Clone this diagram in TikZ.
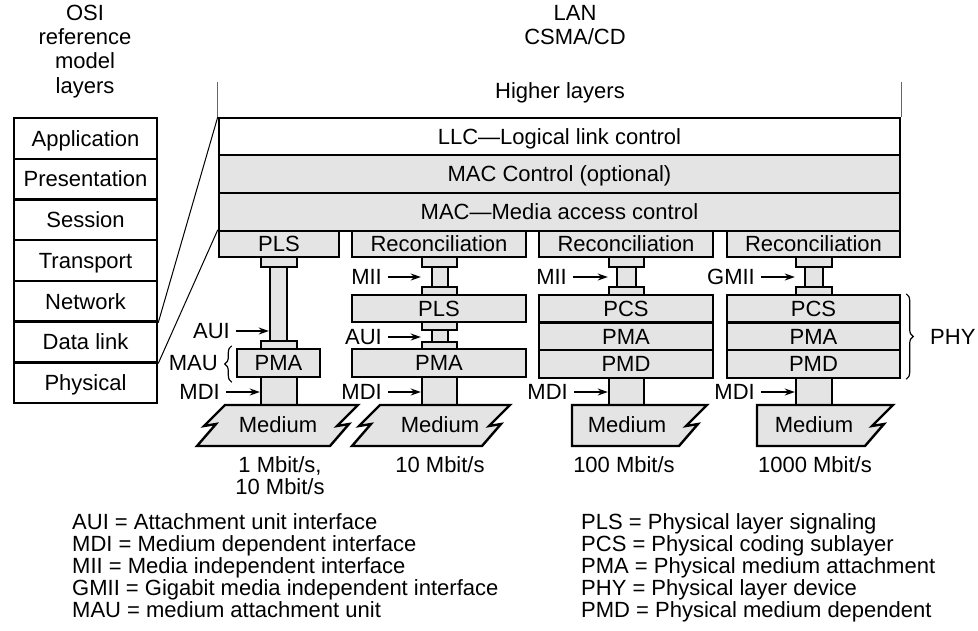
\documentclass[tikz,border=0pt]{standalone}
\usepackage{fontspec}
\setmainfont{Liberation Sans}
\usetikzlibrary{arrows.meta,decorations.pathreplacing}
\definecolor{layergray}{RGB}{228,228,228}
% \blk{style}{name}{x1}{y1}{x2}{y2}{text}: a box given by its corners
\newcommand\blk[7]{\node[#1,minimum width={(#5)-(#3)},minimum height={(#6)-(#4)}] (#2) at ({((#3)+(#5))/2},{((#4)+(#6))/2}) {#7};}
\begin{document}
\begin{tikzpicture}[x=1pt,y=-1pt,
  every node/.style={font=\fontsize{22}{26}\selectfont},
  part/.style={draw,line width=2.4pt,fill=layergray,inner sep=0pt},
  box/.style={part,text height=15.5pt,text depth=0pt},
  whitebox/.style={box,fill=white},
  lbl/.style={inner sep=0pt,text height=15.5pt,text depth=0pt},
  arr/.style={-{Stealth[length=10pt,width=7pt]},line width=1.3pt,shorten <=6pt},
  fineline/.style={line width=1pt},
  brc/.style={decorate,decoration={brace,amplitude=7pt},line width=1.2pt},
  medium/.style={draw,line width=2.4pt,fill=layergray,line join=miter}]
\useasboundingbox (0,0) rectangle (978,630);

% titles
\node[anchor=base] (osi1) at (85,20) {OSI};
\node[anchor=base] (osi2) at (85,44) {reference};
\node[anchor=base] (osi3) at (85,68) {model};
\node[anchor=base] (osi4) at (85,93) {layers};
\node[anchor=base] (lan1) at (575,20) {LAN};
\node[anchor=base] (lan2) at (575,44) {CSMA/CD};
\node[anchor=base] (higher) at (560,98) {Higher layers};

% OSI reference model column
\blk{whitebox}{app}{14}{118}{157}{158.7}{Application}
\blk{whitebox}{pre}{14}{158.7}{157}{199.4}{Presentation}
\blk{whitebox}{ses}{14}{199.4}{157}{240.1}{Session}
\blk{whitebox}{tra}{14}{240.1}{157}{280.9}{Transport}
\blk{whitebox}{net}{14}{280.9}{157}{321.6}{Network}
\blk{whitebox}{dl}{14}{321.6}{157}{362.3}{Data link}
\blk{whitebox}{phy}{14}{362.3}{157}{403}{Physical}

% shared upper sublayers
\blk{whitebox}{llc}{219}{118}{900}{155}{LLC—Logical link control}
\blk{box}{macc}{219}{155}{900}{193}{MAC Control (optional)}
\blk{box}{mac}{219}{193}{900}{231}{MAC—Media access control}

% first sublayer of each column
\blk{box}{pls1}{219}{231}{339}{257}{PLS}
\blk{box}{rec2}{352}{231}{526}{257}{Reconciliation}
\blk{box}{rec3}{539}{231}{713}{257}{Reconciliation}
\blk{box}{rec4}{727}{231}{900}{257}{Reconciliation}

% column 1: 1 and 10 Mbit/s
\blk{part}{s1}{270}{267}{287}{341}{}
\blk{part}{c1a}{261}{257}{297}{267}{}
\blk{part}{c1b}{261}{341}{297}{349}{}
\blk{box}{pma1}{237}{349}{320}{377}{PMA}
\blk{part}{w1}{261}{377}{297}{405}{}

% column 2: 10 Mbit/s
\blk{part}{s2a}{432}{267}{448}{287}{}
\blk{part}{c2a}{422}{257}{457}{267}{}
\blk{part}{c2b}{422}{287}{457}{295}{}
\blk{box}{pls2}{352}{295}{526}{322}{PLS}
\blk{part}{s2b}{432}{330}{448}{342}{}
\blk{part}{c2c}{422}{322}{457}{330}{}
\blk{part}{c2d}{422}{342}{457}{349}{}
\blk{box}{pma2}{352}{349}{526}{377}{PMA}
\blk{part}{w2}{422}{377}{457}{405}{}

% column 3: 100 Mbit/s
\blk{part}{s3}{617}{267}{636}{287}{}
\blk{part}{c3a}{609}{257}{644}{267}{}
\blk{part}{c3b}{609}{287}{644}{295}{}
\blk{box}{pcs3}{539}{295}{713}{322.5}{PCS}
\blk{box}{pma3}{539}{322.5}{713}{350}{PMA}
\blk{box}{pmd3}{539}{350}{713}{378}{PMD}
\blk{part}{w3}{609}{378}{644}{405}{}

% column 4: 1000 Mbit/s
\blk{part}{s4}{805}{267}{823}{287}{}
\blk{part}{c4a}{796}{257}{832}{267}{}
\blk{part}{c4b}{796}{287}{832}{295}{}
\blk{box}{pcs4}{727}{295}{900}{322.5}{PCS}
\blk{box}{pma4}{727}{322.5}{900}{350}{PMA}
\blk{box}{pmd4}{727}{350}{900}{378}{PMD}
\blk{part}{w4}{796}{378}{832}{405}{}

% media, with broken-edge (lightning) sides
\draw[medium] (225,405) -- (358,405) -- ++(-21,21) -- ++(12,-2) -- ++(-19,22)
  -- (197,446) -- ++(19,-22) -- ++(-12,2) -- cycle;
\draw[medium] (380,405) -- (510,405) -- ++(-21,21) -- ++(12,-2) -- ++(-19,22)
  -- (352,446) -- ++(19,-22) -- ++(-12,2) -- cycle;
\draw[medium] (572,405) -- (707,405) -- ++(-21,21) -- ++(12,-2) -- ++(-19,22)
  -- (572,446) -- cycle;
\draw[medium] (757,405) -- (893,405) -- ++(-21,21) -- ++(12,-2) -- ++(-19,22)
  -- (757,446) -- cycle;
\node[lbl] (med1) at (278,425) {Medium};
\node[lbl] (med2) at (440,425) {Medium};
\node[lbl] (med3) at (627,425) {Medium};
\node[lbl] (med4) at (814,425) {Medium};

% zoom lines from the OSI column
\draw[fineline] (net.south east) -- (llc.north west);
\draw[fineline] (dl.south east) -- (pls1.north west);
\draw[fineline,black!60] (llc.north west) -- ++(0,-35);
\draw[fineline,black!60] (llc.north east) -- ++(0,-35);

% interface labels and arrows
\node[lbl,anchor=east] (aui1) at (230,331) {AUI};
\node[lbl,anchor=east] (mau1) at (218,363) {MAU};
\node[lbl,anchor=east] (mdi1) at (220,392) {MDI};
\draw[arr] (aui1.east) -- (s1.west |- aui1.east);
\draw[arr] (mdi1.east) -- (w1.west |- mdi1.east);
\draw[brc] ([shift={(-4,4)}]pma1.south west) -- ([shift={(-4,-2)}]pma1.north west);

\node[lbl,anchor=east] (mii2) at (382,277) {MII};
\node[lbl,anchor=east] (aui2) at (382,337) {AUI};
\node[lbl,anchor=east] (mdi2) at (382,392) {MDI};
\draw[arr] (mii2.east) -- (c2a.west |- mii2.east);
\draw[arr] (aui2.east) -- (c2a.west |- aui2.east);
\draw[arr] (mdi2.east) -- (w2.west |- mdi2.east);

\node[lbl,anchor=east] (mii3) at (567,277) {MII};
\node[lbl,anchor=east] (mdi3) at (568,392) {MDI};
\draw[arr] (mii3.east) -- (c3a.west |- mii3.east);
\draw[arr] (mdi3.east) -- (w3.west |- mdi3.east);

\node[lbl,anchor=east] (gmii4) at (755,277) {GMII};
\node[lbl,anchor=east] (mdi4) at (755,392) {MDI};
\draw[arr] (gmii4.east) -- (c4a.west |- gmii4.east);
\draw[arr] (mdi4.east) -- (w4.west |- mdi4.east);

\draw[brc] ([xshift=5pt]pcs4.north east) -- ([xshift=5pt]pmd4.south east);
\node[lbl,anchor=west] (phylbl) at (930,337) {PHY};

% data rates
\node[lbl] (rate1a) at (280,465) {1 Mbit/s,};
\node[lbl] (rate1b) at (280,487) {10 Mbit/s};
\node[lbl] (rate2) at (440,465) {10 Mbit/s};
\node[lbl] (rate3) at (624,465) {100 Mbit/s};
\node[lbl] (rate4) at (815,465) {1000 Mbit/s};

% abbreviations
\node[lbl,anchor=west] (leg1) at (72,522) {AUI = Attachment unit interface};
\node[lbl,anchor=west] (leg2) at (72,544) {MDI = Medium dependent interface};
\node[lbl,anchor=west] (leg3) at (72,566) {MII = Media independent interface};
\node[lbl,anchor=west] (leg4) at (72,588) {GMII = Gigabit media independent interface};
\node[lbl,anchor=west] (leg5) at (72,610) {MAU = medium attachment unit};
\node[lbl,anchor=west] (leg6) at (581,522) {PLS = Physical layer signaling};
\node[lbl,anchor=west] (leg7) at (581,544) {PCS = Physical coding sublayer};
\node[lbl,anchor=west] (leg8) at (581,566) {PMA = Physical medium attachment};
\node[lbl,anchor=west] (leg9) at (581,588) {PHY = Physical layer device};
\node[lbl,anchor=west] (leg10) at (581,610) {PMD = Physical medium dependent};
\end{tikzpicture}
\end{document}
